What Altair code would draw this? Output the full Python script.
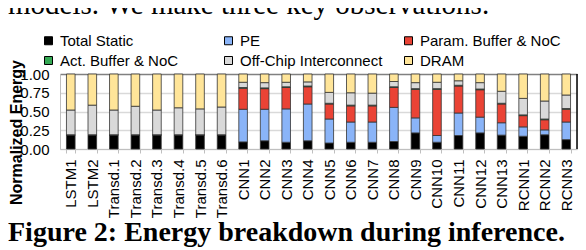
import altair as alt
import pandas as pd

models = ["LSTM1", "LSTM2", "Transd.1", "Transd.2", "Transd.3", "Transd.4",
          "Transd.5", "Transd.6", "CNN1", "CNN2", "CNN3", "CNN4", "CNN5",
          "CNN6", "CNN7", "CNN8", "CNN9", "CNN10", "CNN11", "CNN12", "CNN13",
          "RCNN1", "RCNN2", "RCNN3"]

total_static = [0.19, 0.19, 0.19, 0.19, 0.19, 0.19, 0.19, 0.19,
                0.095, 0.11, 0.09, 0.11, 0.08, 0.09, 0.09, 0.10, 0.215,
                0.09, 0.18, 0.215, 0.185, 0.17, 0.19, 0.125]
pe = [0, 0, 0, 0, 0, 0, 0, 0,
      0.435, 0.42, 0.445, 0.49, 0.32, 0.27, 0.27, 0.455, 0.20,
      0.09, 0.30, 0.21, 0.165, 0.125, 0.065, 0.235]
param_buf = [0, 0, 0, 0, 0, 0, 0, 0,
             0.28, 0.275, 0.285, 0.23, 0.20, 0.215, 0.215, 0.265, 0.38,
             0.615, 0.36, 0.365, 0.25, 0.15, 0.135, 0.17]
act_buf = [0, 0, 0, 0, 0, 0, 0, 0,
           0.01, 0.01, 0.01, 0.01, 0.01, 0.01, 0.01, 0.01, 0.01,
           0.01, 0.01, 0.01, 0.01, 0.01, 0.01, 0.01]
off_chip = [0.33, 0.395, 0.33, 0.38, 0.33, 0.36, 0.345, 0.37,
            0.07, 0.07, 0.06, 0.055, 0.145, 0.165, 0.16, 0.07, 0.08,
            0.085, 0.06, 0.085, 0.16, 0.22, 0.24, 0.18]
dram = [0.48, 0.415, 0.48, 0.43, 0.48, 0.45, 0.465, 0.44,
        0.11, 0.115, 0.11, 0.105, 0.245, 0.25, 0.255, 0.10, 0.115,
        0.11, 0.09, 0.115, 0.23, 0.325, 0.36, 0.28]

# stacking order (bottom to top)
components = ["Total Static", "PE", "Param. Buffer & NoC",
              "Act. Buffer & NoC", "Off-Chip Interconnect", "DRAM"]
series = [total_static, pe, param_buf, act_buf, off_chip, dram]

# legend order (filled column by column, 2 rows)
legend_order = ["Total Static", "Act. Buffer & NoC", "PE",
                "Off-Chip Interconnect", "Param. Buffer & NoC", "DRAM"]
legend_colors = ["#000000", "#34A853", "#8AB4F8", "#D9D9D9", "#EA4335", "#FFE599"]

top_text = "models.  We make three key observations."
caption = "Figure 2: Energy breakdown during inference."

rows = []
for i, m in enumerate(models):
    for k, (comp, vals) in enumerate(zip(components, series)):
        rows.append({"model": m, "component": comp, "k": k, "value": vals[i]})
df = pd.DataFrame(rows)

W, H = 517, 75

bars = alt.Chart(df).mark_bar(stroke="#333333", strokeWidth=0.8).encode(
    x=alt.X("model:N", sort=models,
            scale=alt.Scale(paddingInner=0.6, paddingOuter=0.3),
            axis=alt.Axis(title=None, labelAngle=270, labelFontSize=15,
                          labelFont="Liberation Sans", labelColor="#000000",
                          tickBand="extent", tickSize=4, tickColor="#bfbfbf",
                          domainColor="#bfbfbf", labelPadding=6, grid=False)),
    y=alt.Y("value:Q", stack="zero",
            scale=alt.Scale(domain=[0, 1], nice=False),
            axis=alt.Axis(values=[0, 0.25, 0.5, 0.75, 1], format=".2f",
                          labelFontSize=15, labelFont="Liberation Sans",
                          labelColor="#000000", ticks=False, labelPadding=11,
                          domainColor="#bfbfbf",
                          gridColor={"condition": {"test": "datum.value === 1", "value": "#808080"},
                                     "value": "#d9d9d9"},
                          gridWidth=1.5,
                          title="Normalized Energy", titleFontSize=16,
                          titleFont="Liberation Sans", titleFontWeight="bold",
                          titleColor="#000000", titleAngle=270, titleX=-44,
                          titleY=58, titleAlign="center", titleBaseline="middle")),
    color=alt.Color("component:N", sort=legend_order,
                    scale=alt.Scale(domain=legend_order, range=legend_colors),
                    legend=alt.Legend(title=None, orient="none", legendX=-19,
                                      legendY=-41, columns=3, gridAlign="all",
                                      columnPadding=18, rowPadding=4,
                                      symbolType="square", symbolSize=64,
                                      symbolStrokeColor="#000000",
                                      symbolStrokeWidth=1, labelFontSize=15,
                                      labelFont="Liberation Sans",
                                      labelColor="#000000", labelOffset=4,
                                      padding=0)),
    order=alt.Order("k:Q", sort="ascending"),
)

one = pd.DataFrame({"a": [0]})
border = alt.Chart(one).mark_rule(color="#000000", strokeWidth=1.5).encode(
    x=alt.value(W), y=alt.value(0), y2=alt.value(H))

top = alt.Chart(one).mark_text(font="Liberation Serif", fontSize=29,
                               align="left", baseline="alphabetic",
                               color="#000000").encode(
    x=alt.value(-52), y=alt.value(-60), text=alt.value(top_text))

cap = alt.Chart(one).mark_text(font="Liberation Serif", fontSize=28,
                               fontWeight="bold", align="left",
                               baseline="alphabetic", color="#000000").encode(
    x=alt.value(-52), y=alt.value(167), text=alt.value(caption))

chart = alt.layer(bars, border, top, cap).properties(
    width=W, height=H,
    autosize=alt.AutoSizeParams(type="none"),
    padding={"left": 52, "top": 66, "right": 1, "bottom": 101},
).configure_view(stroke=None).configure(font="Liberation Sans")

chart.save("out.html", embed_options={"renderer": "svg", "actions": False})
